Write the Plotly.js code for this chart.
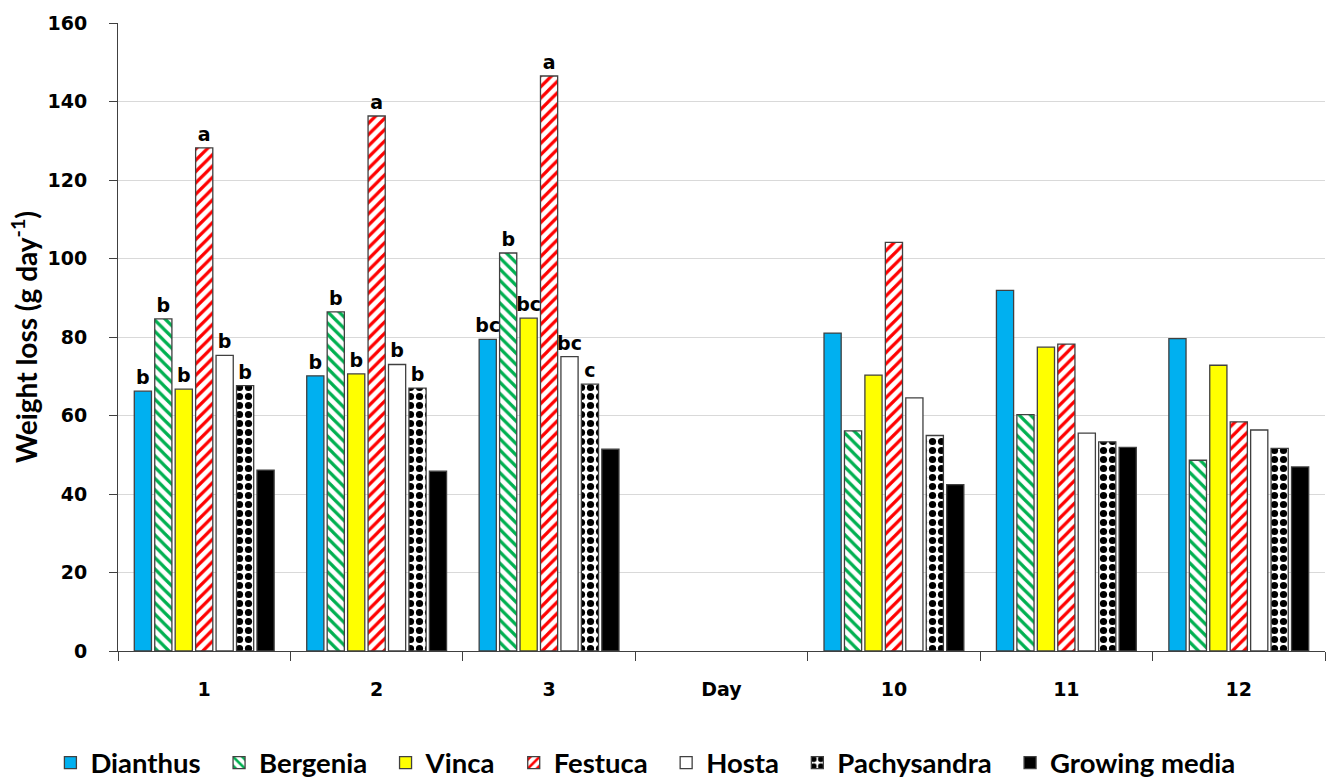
<!DOCTYPE html>
<html>
<head>
<meta charset="utf-8">
<script src="https://cdn.plot.ly/plotly-3.0.1.min.js"></script>
<style>html,body{margin:0;padding:0;background:#fff;}#chart{width:1326px;height:781px;}</style>
</head>
<body>
<div id="chart"></div>
<script>
const days = ["1", "2", "3", "Day", "10", "11", "12"];
const seriesNames = ["Dianthus", "Bergenia", "Vinca", "Festuca", "Hosta", "Pachysandra", "Growing media"];
const dianthus    = [66.2, 70.1, 79.4, null, 81.0, 91.9, 79.6];
const bergenia    = [84.6, 86.4, 101.4, null, 56.1, 60.2, 48.6];
const vinca       = [66.7, 70.6, 84.8, null, 70.3, 77.4, 72.8];
const festuca     = [128.2, 136.3, 146.5, null, 104.1, 78.2, 58.4];
const hosta       = [75.3, 73.0, 75.0, null, 64.5, 55.5, 56.3];
const pachysandra = [67.6, 67.0, 68.0, null, 54.9, 53.3, 51.6];
const growing     = [46.1, 45.8, 51.4, null, 42.4, 51.9, 46.9];
const lettersDianthus    = ["b", "b", "bc", "", "", "", ""];
const lettersBergenia    = ["b", "b", "b", "", "", "", ""];
const lettersVinca       = ["b", "b", "bc", "", "", "", ""];
const lettersFestuca     = ["a", "a", "a", "", "", "", ""];
const lettersHosta       = ["b", "b", "bc", "", "", "", ""];
const lettersPachysandra = ["b", "b", "c", "", "", "", ""];
const lettersGrowing     = ["", "", "", "", "", "", ""];

const values = [dianthus, bergenia, vinca, festuca, hosta, pachysandra, growing];
const letters = [lettersDianthus, lettersBergenia, lettersVinca, lettersFestuca, lettersHosta, lettersPachysandra, lettersGrowing];

const styles = [
  {color: "#00B0F0"},
  {color: "#FFFFFF", pattern: {shape: "\\", fgcolor: "#00B050", bgcolor: "#FFFFFF", size: 8, solidity: 0.4}},
  {color: "#FFFF00"},
  {color: "#FFFFFF", pattern: {shape: "/", fgcolor: "#FF0000", bgcolor: "#FFFFFF", size: 8, solidity: 0.4}},
  {color: "#FFFFFF"},
  {color: "#FFFFFF", pattern: {shape: ".", fgcolor: "#000000", bgcolor: "#FFFFFF", size: 9, solidity: 0.5}},
  {color: "#000000"}
];

const letterFont = {family: "DejaVu Sans, Verdana, sans-serif", size: 19, color: "#000", weight: "bold"};
const labelFamily = "Lato, Open Sans, sans-serif";
const legendPad = "\u00a0\u00a0";

const traces = seriesNames.map((name, i) => ({
  type: "bar",
  name: i < seriesNames.length - 1 ? name + legendPad : name,
  x: days,
  y: values[i],
  text: letters[i],
  textposition: "outside",
  textfont: letterFont,
  constraintext: "none",
  cliponaxis: false,
  marker: Object.assign({line: {color: "#404040", width: 1.3}}, styles[i]),
  hoverinfo: "x+y+name"
}));

const layout = {
  width: 1326, height: 781,
  margin: {l: 118, r: 1, t: 23, b: 130, autoexpand: false},
  paper_bgcolor: "#fff", plot_bgcolor: "#fff",
  barmode: "group",
  bargap: 0.17,
  bargroupgap: 0.16,
  showlegend: true,
  legend: {
    orientation: "h", x: -0.056, xanchor: "left", y: -0.139, yanchor: "top",
    font: {family: labelFamily, size: 27.5, color: "#000", weight: "bold"},
    itemwidth: 30, tracegroupgap: 0
  },
  xaxis: {
    type: "category",
    categoryorder: "array", categoryarray: days,
    range: [-0.5, 6.5],
    showline: true, linecolor: "#404040", linewidth: 1,
    ticks: "outside", tickson: "boundaries", ticklen: 9, tickcolor: "#404040", tickwidth: 1,
    showgrid: false,
    tickfont: {family: "DejaVu Sans, Verdana, sans-serif", size: 19, color: "#000", weight: "bold"},
    ticklabelstandoff: 21,
    zeroline: false
  },
  yaxis: {
    range: [0, 160], dtick: 20, tick0: 0,
    showline: true, linecolor: "#404040", linewidth: 1,
    ticks: "outside", ticklen: 8, tickcolor: "#404040", tickwidth: 1,
    showgrid: true, gridcolor: "#d9d9d9", gridwidth: 1,
    zeroline: false,
    tickfont: {family: "DejaVu Sans, Verdana, sans-serif", size: 19, color: "#000", weight: "bold"},
    ticklabelstandoff: 18,
    title: {text: "Weight loss (g day<sup>-1</sup>)", standoff: 1,
            font: {family: labelFamily, size: 28, color: "#000", weight: "bold"}}
  }
};

Plotly.newPlot("chart", traces, layout, {displayModeBar: false, staticPlot: true});
</script>
</body>
</html>
